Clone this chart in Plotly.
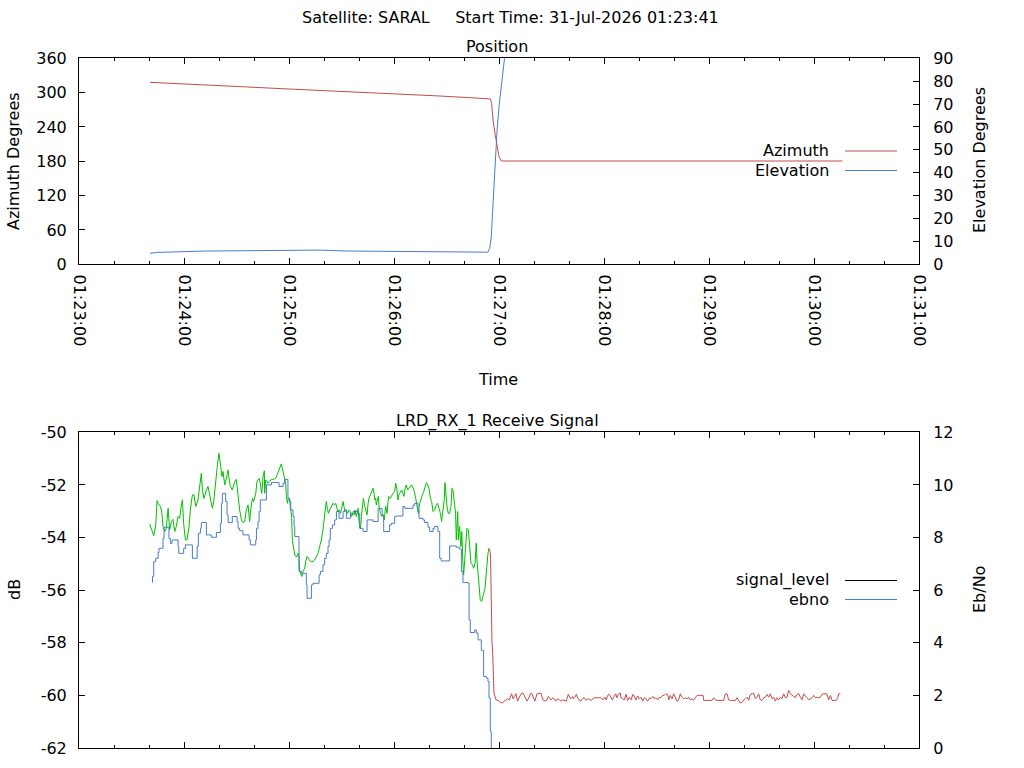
import pandas as pd
import plotly.graph_objects as go

# all times are seconds after 01:23:00 on the pass day
BASE = pd.Timestamp("2026-07-31 01:23:00")

# --- Position panel ---
az_t = [40.6, 50.9, 72.8, 95.6, 116.6, 138.5, 160.4, 181.4, 204.2, 223.2, 235.1,
        235.8, 236.6, 237.7, 238.9, 240.0, 241.3, 436.2]
az_deg = [318.0, 316.3, 313.3, 310.0, 306.8, 303.9, 301.2, 298.4, 294.4, 291.2, 288.9,
          281.0, 252.0, 229.0, 208.5, 188.0, 180.5, 180.5]

el_t = [40.6, 45.0, 72.8, 137.5, 152.8, 206.0, 233.7, 234.7, 235.6, 236.2, 237.0,
        237.9, 238.9, 240.0, 241.3, 242.9, 243.6]
el_deg = [4.8, 5.2, 5.8, 6.2, 5.8, 5.3, 5.3, 7.0, 12.1, 20.8, 32.5,
          45.6, 58.7, 68.9, 79.1, 89.6, 93.0]

# --- Receive signal panel ---
sig_t = [
    40.4, 42.7, 43.8, 44.6, 45.2, 46.5, 47.3, 48.0, 49.0, 49.9, 50.9, 51.8, 52.8, 53.7,
    54.7, 55.6, 56.6, 57.5, 58.5, 59.1, 59.8, 60.8, 61.7, 62.9, 63.6, 64.8, 65.7, 66.7,
    68.0, 69.4, 69.9, 70.5, 71.4, 72.8, 73.7, 74.7, 75.6, 76.2, 77.0, 78.1, 79.1, 80.0,
    80.8, 81.7, 82.3, 83.3, 84.2, 85.2, 85.7, 86.5, 87.6, 89.0, 89.9, 90.9, 91.8, 92.8,
    93.7, 94.7, 95.6, 96.6, 97.5, 98.1, 99.1, 99.8, 101.0, 101.7, 102.9, 103.6, 104.4,
    105.2, 105.9, 106.1, 106.7, 107.4, 108.0, 109.0, 109.9, 110.9, 112.4, 113.2, 114.3,
    115.1, 115.6, 116.2, 117.0, 117.5, 118.1, 118.5, 119.1, 119.6, 120.4, 120.8, 121.5,
    121.9, 122.7, 123.3, 123.8, 124.6, 125.2, 125.7, 126.1, 126.9, 127.4, 128.0, 129.0,
    129.5, 130.3, 131.1, 131.8, 132.8, 133.7, 134.7, 135.6, 136.6, 137.5, 138.5, 139.4,
    140.4, 141.0, 141.3, 141.9, 142.5, 143.3, 144.2, 145.2, 145.9, 146.7, 147.4, 148.0,
    148.6, 149.4, 150.1, 150.9, 151.4, 152.0, 152.8, 153.5, 154.3, 155.1, 155.8, 156.6,
    157.2, 157.7, 158.5, 159.5, 160.0, 160.8, 161.4, 161.9, 162.5, 163.1, 163.8, 164.6,
    165.2, 165.7, 166.5, 167.3, 168.0, 168.6, 169.0, 169.5, 169.9, 170.5, 171.1, 171.4,
    172.2, 173.0, 173.7, 174.5, 175.2, 175.6, 176.0, 176.6, 177.1, 177.9, 178.7, 179.4,
    180.4, 181.0, 181.7, 182.3, 182.8, 183.6, 184.4, 185.1, 185.7, 186.3, 187.0, 187.8,
    188.6, 189.3, 190.1, 190.9, 191.6, 192.4, 193.1, 193.9, 194.7, 195.4, 196.2, 197.0,
    197.7, 198.5, 199.2, 200.0, 200.8, 201.5, 202.3, 203.2, 204.2, 205.0, 205.7, 206.5,
    207.2, 208.0, 208.8, 209.1, 209.5, 209.9, 210.3, 211.0, 211.8, 212.6, 213.1, 213.7,
    214.5, 215.2, 215.6, 216.0, 216.4, 216.8, 217.1, 217.5, 217.9, 218.3, 218.7, 219.0,
    219.4, 219.8, 220.4, 221.0, 221.7, 222.5, 223.2, 224.0, 224.8, 225.5, 226.3, 227.0,
    227.4, 227.8, 228.2, 228.8, 229.3, 230.1, 230.9, 231.4, 232.0, 232.4, 232.8, 233.1,
    233.7, 234.3,
    # after lock loss
    234.9, 235.2, 235.4, 235.8, 236.0, 236.4, 236.6, 237.1, 238.3, 239.6, 240.7, 242.1,
    243.0, 244.0, 244.9, 245.9, 246.5, 247.2, 248.0, 248.7, 249.7, 250.6, 251.6, 252.6,
    253.7, 254.8, 256.0, 257.1, 257.9, 258.6, 259.8, 260.5, 261.7, 263.0, 264.0, 265.1,
    266.3, 267.4, 268.2, 268.9, 269.7, 270.8, 271.6, 272.5, 273.5, 274.5, 275.4, 276.4,
    277.7, 278.5, 278.8, 279.6, 280.4, 281.1, 282.1, 282.6, 283.4, 284.2, 284.9, 285.7,
    286.8, 287.6, 288.7, 289.7, 290.7, 291.8, 292.9, 294.1, 294.8, 296.4, 297.5, 298.3,
    299.4, 300.6, 301.3, 302.1, 303.0, 304.0, 304.7, 305.5, 306.7, 307.4, 308.2, 309.3,
    309.7, 310.7, 311.6, 312.6, 313.5, 314.5, 315.4, 316.6, 317.3, 318.3, 319.2, 320.2,
    321.1, 322.1, 323.0, 324.0, 324.9, 326.1, 326.8, 328.0, 328.8, 329.7, 330.7, 331.6,
    332.6, 333.5, 334.5, 335.4, 336.4, 337.0, 337.9, 338.9, 339.8, 340.8, 341.7, 342.7,
    343.6, 344.6, 345.5, 346.5, 347.4, 348.4, 349.3, 350.3, 351.2, 352.2, 353.2, 354.1,
    355.4, 356.6, 357.0, 357.9, 359.8, 361.7, 362.7, 363.6, 364.6, 366.5, 368.4, 369.3,
    370.3, 371.2, 372.2, 374.1, 375.1, 376.0, 377.0, 377.9, 378.9, 379.8, 380.8, 381.7,
    382.7, 383.2, 384.0, 384.8, 385.5, 386.5, 387.4, 388.4, 389.3, 390.3, 391.3, 392.2,
    393.2, 394.1, 395.1, 396.0, 397.0, 397.9, 398.9, 399.8, 400.8, 401.7, 402.7, 403.6,
    404.6, 405.5, 406.5, 407.4, 408.4, 409.3, 410.3, 411.3, 412.2, 413.2, 414.1, 415.1,
    416.0, 417.0, 417.9, 418.9, 419.8, 420.8, 421.7, 422.7, 423.6, 424.6, 425.5, 426.5,
    427.4, 428.4, 429.4, 430.3, 431.3, 432.8, 433.5, 434.1, 435.1,
]
sig_db = [
    -53.49, -53.93, -53.58, -52.60, -52.70, -52.82, -53.01, -53.58, -53.77, -53.65, -52.89,
    -53.71, -53.39, -53.31, -53.77, -53.58, -53.20, -53.27, -52.76, -52.57, -53.46, -54.09,
    -54.09, -53.58, -52.95, -52.38, -52.38, -52.82, -52.57, -51.94, -51.56, -52.19, -52.51,
    -52.19, -52.06, -52.38, -52.63, -52.89, -52.63, -51.81, -51.24, -50.80, -51.24, -51.68,
    -51.49, -52.00, -51.75, -51.43, -51.75, -52.06, -52.19, -51.87, -51.79, -52.57, -52.95,
    -53.33, -53.43, -53.39, -52.95, -52.76, -53.39, -52.95, -52.51, -52.63, -52.32, -51.87,
    -51.75, -51.94, -52.32, -51.68, -51.46, -52.32, -51.81, -51.87, -51.94, -51.87, -51.79,
    -51.79, -51.75, -51.62, -51.43, -51.24, -51.20, -51.37, -51.62, -51.75, -51.94, -52.44,
    -52.70, -52.51, -52.57, -52.89, -53.20, -54.09, -54.47, -54.66, -54.72, -54.72, -54.60,
    -54.66, -55.29, -55.42, -55.48, -55.29, -55.17, -54.91, -54.72, -54.79, -54.88, -54.91,
    -54.91, -54.85, -54.72, -54.60, -54.34, -54.09, -53.71, -53.20, -52.76, -52.63, -52.89,
    -53.08, -52.95, -52.82, -52.70, -52.76, -52.70, -52.89, -53.01, -52.95, -53.08, -52.89,
    -52.63, -52.82, -53.01, -52.95, -53.08, -52.95, -53.01, -53.20, -53.08, -53.14, -52.95,
    -53.20, -52.89, -53.39, -53.65, -53.20, -52.82, -52.51, -52.76, -52.95, -53.14, -52.70,
    -52.51, -52.38, -52.25, -52.13, -52.32, -52.57, -52.51, -52.76, -52.57, -52.44, -52.76,
    -53.08, -53.20, -53.14, -53.33, -52.82, -52.89, -53.08, -52.63, -52.44, -52.51, -52.38,
    -52.32, -52.25, -51.94, -52.19, -52.57, -52.38, -52.25, -52.19, -52.32, -52.44, -52.13,
    -52.00, -52.19, -52.13, -52.06, -52.00, -52.13, -52.25, -52.51, -52.82, -53.08, -52.70,
    -52.51, -52.38, -52.25, -52.06, -51.91, -52.00, -52.13, -52.51, -52.63, -53.01, -52.95,
    -52.76, -52.70, -52.89, -53.08, -53.39, -52.89, -52.51, -51.91, -52.25, -52.51, -52.82,
    -53.08, -53.08, -52.82, -52.13, -52.19, -52.63, -53.08, -54.09, -53.58, -53.01, -54.09,
    -53.65, -53.58, -54.09, -54.34, -53.77, -54.60, -54.98, -55.42, -54.72, -54.09, -53.65,
    -53.71, -54.34, -54.98, -55.04, -55.17, -54.98, -54.22, -54.85, -55.23, -55.61, -56.05,
    -56.37, -56.43, -56.24, -56.12, -55.93, -55.61, -55.17, -54.85, -54.60, -54.41,
    # after lock loss
    -54.53, -54.85, -56.12, -56.87, -58.01, -58.39, -59.22, -59.91, -60.17, -60.19, -60.26,
    -60.29, -60.22, -60.17, -60.13, -60.17, -60.07, -59.94, -60.13, -60.04, -59.94, -60.22,
    -60.09, -59.94, -59.91, -60.07, -60.22, -60.09, -59.94, -59.91, -60.13, -60.22, -59.94,
    -59.91, -59.91, -60.17, -60.22, -60.17, -60.04, -60.09, -60.17, -60.09, -60.13, -60.22,
    -60.13, -60.17, -60.22, -60.17, -60.22, -60.22, -60.13, -59.96, -60.07, -60.13, -60.04,
    -60.13, -60.07, -59.96, -60.09, -60.17, -60.22, -60.13, -60.09, -60.19, -60.13, -60.17,
    -60.19, -60.09, -60.09, -60.09, -60.09, -60.09, -60.17, -60.07, -60.17, -60.00, -59.96,
    -60.07, -60.17, -60.07, -59.94, -60.09, -59.96, -59.91, -60.09, -60.13, -60.17, -59.96,
    -60.19, -60.07, -60.17, -59.96, -60.07, -60.17, -60.02, -60.13, -60.07, -60.22, -60.09,
    -60.13, -60.22, -60.09, -60.13, -60.04, -60.13, -60.09, -60.17, -60.07, -60.09, -60.00,
    -60.00, -59.94, -59.96, -60.17, -60.00, -60.13, -59.94, -60.13, -60.22, -60.17, -59.94,
    -60.07, -60.13, -60.09, -60.13, -60.07, -60.17, -60.13, -60.19, -60.09, -60.00, -60.00,
    -60.00, -60.00, -60.19, -60.19, -60.19, -60.19, -60.09, -60.17, -60.19, -60.19, -60.19,
    -59.94, -59.94, -60.17, -60.19, -60.19, -60.19, -60.09, -60.22, -60.29, -60.26, -60.17,
    -60.13, -60.07, -60.19, -60.04, -59.94, -59.94, -59.91, -60.13, -60.07, -59.94, -60.17,
    -60.19, -60.09, -60.07, -59.96, -60.07, -59.94, -60.13, -60.07, -60.22, -60.09, -60.17,
    -60.07, -60.13, -59.94, -60.09, -60.07, -59.81, -59.94, -60.00, -60.07, -60.09, -59.96,
    -59.94, -60.07, -60.17, -59.94, -60.00, -60.09, -60.17, -60.13, -60.09, -60.00, -60.09,
    -60.07, -60.09, -60.07, -59.96, -59.94, -59.94, -59.94, -60.17, -60.00, -60.19, -60.19,
    -60.19, -60.09, -59.94, -59.94,
]
lock_lost_at = 234.3  # seconds; signal drawn red from here on

ebno_t = [
    41.9, 42.0, 42.7, 43.8, 45.2, 45.7, 48.0, 48.6, 51.4, 52.2, 53.2, 56.6, 57.0, 59.8,
    60.8, 64.8, 67.5, 68.2, 69.4, 69.9, 72.8, 75.6, 78.5, 80.8, 81.4, 81.9, 83.8, 84.6,
    85.2, 87.6, 90.3, 90.9, 91.8, 93.7, 97.2, 97.9, 101.0, 101.4, 102.3, 102.9, 103.6,
    107.1, 110.0, 114.3, 116.6, 117.5, 119.4, 120.4, 121.0, 122.3, 122.9, 123.3, 125.7,
    127.1, 129.9, 130.3, 132.8, 133.7, 137.2, 137.9, 139.4, 140.4, 141.3, 142.3, 142.9,
    143.6, 144.8, 146.1, 147.1, 148.6, 150.9, 151.8, 152.8, 155.1, 156.6, 159.1, 160.4,
    162.3, 164.6, 168.0, 170.9, 173.2, 174.1, 177.5, 178.5, 180.4, 181.3, 185.1, 186.1,
    190.9, 191.8, 193.7, 194.3, 196.6, 197.5, 199.4, 200.4, 202.3, 203.2, 205.1, 206.1,
    207.0, 211.8, 215.6, 217.5, 218.5, 219.4, 222.3, 222.9, 223.6, 226.1, 227.0, 228.0,
    229.9, 231.2, 232.8, 233.7, 234.3, 235.0, 235.6,
]
ebno = [
    6.29, 6.52, 7.08, 7.21, 7.43, 7.59, 7.97, 8.39, 7.97, 7.78, 7.91, 7.66, 7.40, 7.59,
    7.72, 7.21, 7.66, 8.16, 8.35, 8.57, 8.10, 8.01, 8.19, 8.54, 9.30, 9.68, 9.37, 8.86,
    8.57, 8.80, 8.61, 8.35, 8.26, 8.10, 7.91, 7.72, 7.91, 8.35, 8.61, 8.99, 9.43,
    10.00, 10.09, 9.94, 10.06, 10.21, 9.49, 9.37, 9.05, 8.80, 8.42, 8.04, 6.71,
    6.64, 6.20, 5.69, 6.20, 6.26, 6.58, 6.71, 6.96, 7.21, 7.40, 7.66, 7.91,
    8.35, 8.48, 8.67, 8.99, 8.73, 8.99, 9.05, 8.73, 8.92, 8.99, 8.92, 8.35,
    8.23, 8.67, 8.61, 9.11, 8.86, 8.23, 8.48, 8.54, 8.80, 8.82, 9.18, 9.11,
    9.24, 9.30, 9.05, 8.73, 8.67, 8.57, 8.39, 8.23, 8.35, 8.42, 8.23, 7.21,
    7.11, 7.68, 7.63, 7.56, 6.71, 6.29, 6.26, 4.87, 4.39, 4.49, 4.37, 4.11,
    3.71, 2.72, 2.66, 2.53, 1.90, 0.63, 0.00,
]

db_ticks = [-62, -60, -58, -56, -54, -52, -50]


def to_time(secs):
    return BASE + pd.to_timedelta(secs, unit="s")


RED = "#c44b4b"
BLUE = "#4a7dc4"
GREEN = "#00c000"
FONT = "DejaVu Sans"
FS = 16

# page geometry (gnuplot-like fixed plot boxes)
W, H = 1024, 768
L, R, T, B = 79, 105, 58, 20


def px(xp):
    return (xp - L) / (W - L - R)


def py(yp):
    return (H - B - yp) / (H - T - B)


def dom(lo, hi):
    return [max(0.0, py(lo)), min(1.0, py(hi))]


locked = [(t, v) for t, v in zip(sig_t, sig_db) if t <= lock_lost_at]
lost = [(t, v) for t, v in zip(sig_t, sig_db) if t >= lock_lost_at]

fig = go.Figure()
fig.add_trace(go.Scatter(x=to_time(az_t), y=az_deg, mode="lines", name="Azimuth",
                         line=dict(color=RED, width=1), xaxis="x", yaxis="y"))
fig.add_trace(go.Scatter(x=to_time(el_t), y=el_deg, mode="lines", name="Elevation",
                         line=dict(color=BLUE, width=1), xaxis="x", yaxis="y2"))
fig.add_trace(go.Scatter(x=to_time([p[0] for p in locked]), y=[p[1] for p in locked],
                         mode="lines", name="signal_level",
                         line=dict(color=GREEN, width=1), xaxis="x2", yaxis="y3"))
fig.add_trace(go.Scatter(x=to_time([p[0] for p in lost]), y=[p[1] for p in lost],
                         mode="lines", name="signal_level",
                         line=dict(color=RED, width=1), xaxis="x2", yaxis="y3"))
fig.add_trace(go.Scatter(x=to_time(ebno_t), y=ebno, mode="lines", name="ebno",
                         line=dict(color=BLUE, width=1, shape="hv"), xaxis="x2", yaxis="y4"))

xrange = [BASE, BASE + pd.Timedelta(minutes=8)]
common_x = dict(
    range=xrange, type="date", dtick=60000, tick0=BASE, ticks="inside", ticklen=6,
    tickcolor="black", showline=True, linecolor="black", linewidth=1, mirror="ticks",
    showgrid=False, zeroline=False, automargin=False,
    minor=dict(dtick=20000, ticks="inside", ticklen=3, tickcolor="black", showgrid=False),
)
left_y = dict(ticks="inside", ticklen=6, tickcolor="black", showline=True, linecolor="black",
              linewidth=1, mirror=False, showgrid=False, zeroline=False, ticklabelstandoff=8,
              automargin=False)
right_y = dict(ticks="inside", ticklen=6, tickcolor="black", showline=True, linecolor="black",
               linewidth=1, side="right", showgrid=False, zeroline=False, ticklabelstandoff=10,
               automargin=False)

fig.update_layout(
    width=W, height=H,
    margin=dict(l=L, r=R, t=T, b=B),
    paper_bgcolor="white", plot_bgcolor="white",
    showlegend=False,
    font=dict(family=FONT, size=FS, color="black"),
    xaxis=dict(common_x, anchor="y", tickformat="%H:%M:%S", tickangle=90,
               ticklabelstandoff=6),
    yaxis=dict(left_y, domain=dom(264.3, 58.3), anchor="x", range=[0, 360], dtick=60),
    yaxis2=dict(right_y, overlaying="y", anchor="x", range=[0, 90], dtick=10),
    xaxis2=dict(common_x, anchor="y3", showticklabels=False),
    yaxis3=dict(left_y, domain=dom(748.3, 432.3), anchor="x2", range=[-62, -50],
                tickmode="array", tickvals=db_ticks, ticktext=[str(v) for v in db_ticks]),
    yaxis4=dict(right_y, overlaying="y3", anchor="x2", range=[0, 12], dtick=2),
)

title = "Satellite: SARAL" + "\u00a0" * 5 + "Start Time: 31-Jul-2026 01:23:41"
texts = [
    (title, 511, 17, 0, "center"),
    ("Position", 497, 46, 0, "center"),
    ("LRD_RX_1 Receive Signal", 497, 421, 0, "center"),
    ("Time", 498, 379, 0, "center"),
    ("Azimuth Degrees", 14, 161, -90, "center"),
    ("Elevation Degrees", 979, 160, -90, "center"),
    ("dB", 14, 590, -90, "center"),
    ("Eb/No", 979, 590, -90, "center"),
    ("Azimuth", 831, 150, 0, "right"),
    ("Elevation", 831, 170, 0, "right"),
    ("signal_level", 831, 580, 0, "right"),
    ("ebno", 831, 599, 0, "right"),
]
for txt, x, y, ang, anchor in texts:
    fig.add_annotation(text=txt, x=px(x), y=py(y), xref="paper", yref="paper",
                       showarrow=False, textangle=ang, xanchor=anchor, yanchor="middle",
                       font=dict(family=FONT, size=FS, color="black"))

# legend key samples
for y, color in [(151, RED), (170.5, BLUE), (580.5, "black"), (599.5, BLUE)]:
    fig.add_shape(type="line", xref="paper", yref="paper", x0=px(845), x1=px(897),
                  y0=py(y), y1=py(y), line=dict(color=color, width=1))

# the page body has a default 8px margin; drop it so the figure sits at the corner
fig.write_html("out.html", config={"displayModeBar": False},
               post_script="document.body.style.margin='0';")
